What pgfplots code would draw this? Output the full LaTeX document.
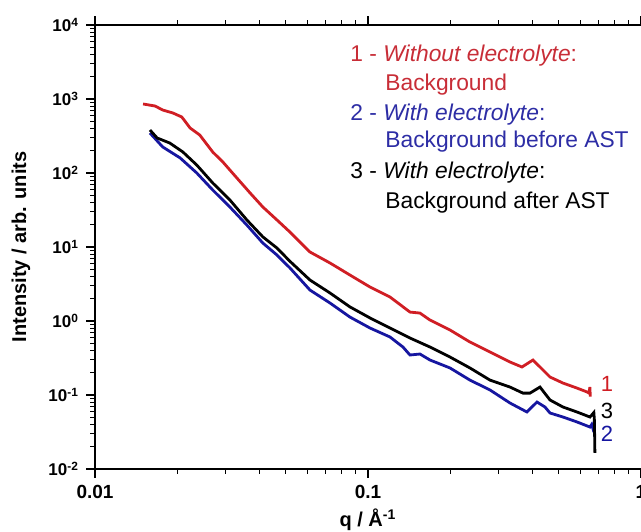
\documentclass[border=0pt]{standalone}
\usepackage{fontspec}
\setmainfont{Liberation Sans}
\usepackage{pgfplots}
\pgfplotsset{compat=1.18}
\definecolor{cred}{RGB}{208,30,36}
\definecolor{cblue}{RGB}{22,22,160}
\definecolor{tred}{RGB}{200,45,55}
\definecolor{tblue}{RGB}{45,45,165}
\begin{document}
\begin{tikzpicture}
\begin{axis}[
  scale only axis, width=273pt, height=222pt,
  xmode=log, ymode=log, xmin=0.01, xmax=1, ymin=1e-2, ymax=1e4,
  separate axis lines,
  axis x line*=box, axis y line*=left,
  axis line style={-, line width=0.9pt},
  x axis line style={-}, y axis line style={-},
  tick align=outside,
  major tick length=4.5pt, minor tick length=2.5pt,
  every tick/.style={black, line width=0.6pt},
  xtick={0.01,0.1,1}, xticklabels={0.01,0.1,1},
  ytick={1e-2,1e-1,1,10,100,1000,10000},
  yticklabels={10\textsuperscript{-2},10\textsuperscript{-1},10\textsuperscript{0},10\textsuperscript{1},10\textsuperscript{2},10\textsuperscript{3},10\textsuperscript{4}},
  yticklabel style={font=\bfseries\fontsize{8.5}{10}\selectfont},
  xticklabel style={font=\bfseries\fontsize{9.5}{11}\selectfont},
  xlabel={q / Å\textsuperscript{-1}},
  ylabel={Intensity / arb. units},
  label style={font=\bfseries\fontsize{10}{12}\selectfont},
  xlabel style={at={(axis description cs:0.5,-0.1306)}, anchor=base},
  ylabel style={at={(axis description cs:-0.1355,0.5)}, anchor=center},
  clip=false,
]
\coordinate (bl) at (rel axis cs:0,0);
\coordinate (tr) at (rel axis cs:1,1);
\addplot[cblue, line width=1.4pt] coordinates {
(0.0159,347)(0.0177,225)(0.0205,160)(0.0236,100)(0.0270,58.9)(0.0312,34.7)(0.0360,19.8)(0.0412,11.3)(0.0464,7.80)(0.0518,5.2)(0.0613,2.62)(0.0726,1.75)(0.0859,1.13)(0.1017,0.804)(0.1204,0.608)(0.1343,0.445)(0.1425,0.347)(0.1550,0.358)(0.1687,0.297)(0.1997,0.232)(0.2363,0.159)(0.2798,0.117)(0.3313,0.0779)(0.3823,0.0589)(0.4159,0.0804)(0.4450,0.0688)(0.4642,0.0571)(0.5179,0.0504)(0.5830,0.0432)(0.6504,0.0369)(0.660,0.040)(0.670,0.033)(0.6785,0.030)
};
\addplot[black, line width=1.4pt] coordinates {
(0.0159,381)(0.0169,297)(0.0188,254)(0.0210,192)(0.0236,128)(0.0270,73.3)(0.0312,43.2)(0.0360,23.2)(0.0412,13.7)(0.0464,9.69)(0.0518,6.4)(0.0613,3.58)(0.0726,2.39)(0.0859,1.55)(0.1017,1.10)(0.1204,0.804)(0.1425,0.589)(0.1687,0.445)(0.1997,0.326)(0.2363,0.232)(0.2798,0.159)(0.3313,0.128)(0.3696,0.106)(0.3921,0.106)(0.4266,0.128)(0.4642,0.0856)(0.5179,0.0688)(0.5830,0.0589)(0.6504,0.0504)(0.672,0.058)(0.675,0.046)(0.678,0.0165)
};
\addplot[cred, line width=1.4pt] coordinates {
(0.0150,856)(0.0166,804)(0.0177,710)(0.0193,647)(0.0208,571)(0.0223,406)(0.0242,326)(0.0270,192)(0.0294,141)(0.0331,85.6)(0.0370,53.7)(0.0412,34.7)(0.0464,23.2)(0.0518,15.9)(0.0613,8.56)(0.0726,6.08)(0.0859,4.18)(0.1017,2.88)(0.1204,2.11)(0.1425,1.32)(0.1550,1.28)(0.1687,1.03)(0.1997,0.756)(0.2363,0.520)(0.2798,0.381)(0.3313,0.279)(0.3665,0.239)(0.4021,0.297)(0.4266,0.239)(0.4642,0.175)(0.5179,0.145)(0.5830,0.124)(0.6341,0.110)(0.645,0.106)(0.650,0.128)(0.652,0.095)
};
\begin{scope}[every node/.style={anchor=base west, inner sep=0pt, font=\fontsize{11.4}{13}\selectfont}]
\node[text=tred] at (rel axis cs:0.467,0.9167) {\makebox[16.5pt][l]{1 -}\textit{Without electrolyte}:};
\node[text=tred] at (rel axis cs:0.467,0.8514) {\hspace*{17.5pt}Background};
\node[text=tblue] at (rel axis cs:0.467,0.7860) {\makebox[16.5pt][l]{2 -}\textit{With electrolyte}:};
\node[text=tblue] at (rel axis cs:0.467,0.7230) {\hspace*{17.5pt}Background before AST};
\node[text=black] at (rel axis cs:0.467,0.6554) {\makebox[16.5pt][l]{3 -}\textit{With electrolyte}:};
\node[text=black] at (rel axis cs:0.467,0.5878) {\hspace*{17.5pt}Background after AST};
\end{scope}
\node[text=cred, font=\fontsize{11}{13}\selectfont] at (rel axis cs:0.9377,0.1914) {1};
\node[text=black, font=\fontsize{11}{13}\selectfont] at (rel axis cs:0.9377,0.1306) {3};
\node[text=cblue, font=\fontsize{11}{13}\selectfont] at (rel axis cs:0.9377,0.0788) {2};
\end{axis}
\pgfresetboundingbox
\path ([shift={(-47.5pt,-31.5pt)}]bl) rectangle ([shift={(0pt,12.5pt)}]tr);
\end{tikzpicture}
\end{document}
